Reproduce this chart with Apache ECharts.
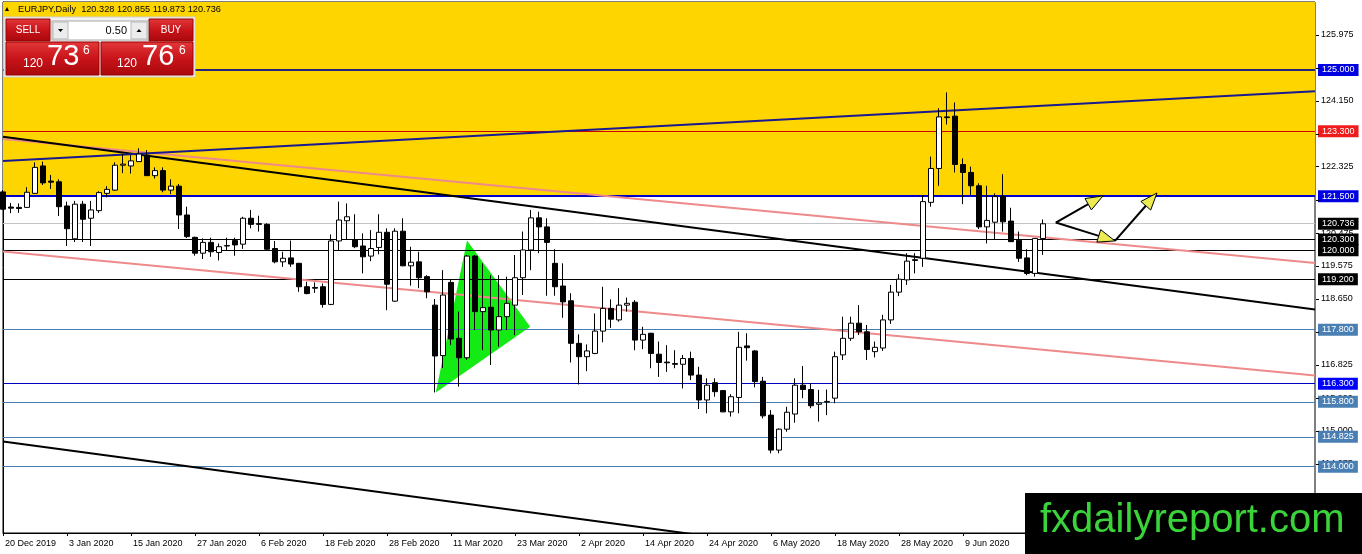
<!DOCTYPE html>
<html><head><meta charset="utf-8">
<script src="https://cdn.jsdelivr.net/npm/echarts@6/dist/echarts.min.js"></script>
<style>html,body{margin:0;padding:0;background:#fff}#c{width:1362px;height:554px}</style>
</head><body><div id="c"></div>
<script>
// ---------- DATA ----------
const dates = ['2019-12-20','2019-12-23','2019-12-24','2019-12-26','2019-12-27','2019-12-30','2019-12-31','2020-01-02','2020-01-03','2020-01-06','2020-01-07','2020-01-08','2020-01-09','2020-01-10','2020-01-13','2020-01-14','2020-01-15','2020-01-16','2020-01-17','2020-01-20','2020-01-21','2020-01-22','2020-01-23','2020-01-24','2020-01-27','2020-01-28','2020-01-29','2020-01-30','2020-01-31','2020-02-03','2020-02-04','2020-02-05','2020-02-06','2020-02-07','2020-02-10','2020-02-11','2020-02-12','2020-02-13','2020-02-14','2020-02-17','2020-02-18','2020-02-19','2020-02-20','2020-02-21','2020-02-24','2020-02-25','2020-02-26','2020-02-27','2020-02-28','2020-03-02','2020-03-03','2020-03-04','2020-03-05','2020-03-06','2020-03-09','2020-03-10','2020-03-11','2020-03-12','2020-03-13','2020-03-16','2020-03-17','2020-03-18','2020-03-19','2020-03-20','2020-03-23','2020-03-24','2020-03-25','2020-03-26','2020-03-27','2020-03-30','2020-03-31','2020-04-01','2020-04-02','2020-04-03','2020-04-06','2020-04-07','2020-04-08','2020-04-09','2020-04-10','2020-04-13','2020-04-14','2020-04-15','2020-04-16','2020-04-17','2020-04-20','2020-04-21','2020-04-22','2020-04-23','2020-04-24','2020-04-27','2020-04-28','2020-04-29','2020-04-30','2020-05-01','2020-05-04','2020-05-05','2020-05-06','2020-05-07','2020-05-08','2020-05-11','2020-05-12','2020-05-13','2020-05-14','2020-05-15','2020-05-18','2020-05-19','2020-05-20','2020-05-21','2020-05-22','2020-05-25','2020-05-26','2020-05-27','2020-05-28','2020-05-29','2020-06-01','2020-06-02','2020-06-03','2020-06-04','2020-06-05','2020-06-08','2020-06-09','2020-06-10','2020-06-11','2020-06-12','2020-06-15','2020-06-16','2020-06-17','2020-06-18','2020-06-19','2020-06-22','2020-06-23'];
const futureDates = ['2020-06-24','2020-06-25','2020-06-26','2020-06-29','2020-06-30','2020-07-01','2020-07-02','2020-07-03','2020-07-06','2020-07-07','2020-07-08','2020-07-09','2020-07-10','2020-07-13','2020-07-14','2020-07-15','2020-07-16','2020-07-17','2020-07-20','2020-07-21','2020-07-22','2020-07-23','2020-07-24','2020-07-27','2020-07-28','2020-07-29','2020-07-30','2020-07-31','2020-08-03','2020-08-04','2020-08-05','2020-08-06','2020-08-07','2020-08-10'];

const opens = [121.62,121.20,121.19,121.19,121.58,122.34,121.92,121.90,121.23,120.32,121.28,120.89,121.10,121.58,121.67,122.36,122.34,122.46,122.64,122.07,122.21,121.67,121.78,120.98,120.36,119.92,120.22,119.94,120.13,120.27,120.17,120.89,120.74,120.72,120.05,119.68,119.79,119.64,118.99,118.97,118.99,118.50,120.26,120.82,120.29,120.12,119.84,120.08,120.50,118.59,120.53,119.57,119.68,119.27,118.48,117.08,119.11,117.56,117.02,119.84,118.30,118.42,117.79,118.16,118.48,119.24,120.01,120.90,120.65,119.64,119.01,118.60,117.42,117.05,117.14,117.76,118.39,118.07,118.48,118.56,117.51,117.70,117.12,116.90,116.86,116.84,117.00,116.54,115.85,116.33,116.11,115.52,115.92,117.35,117.21,116.37,115.43,114.46,115.04,115.46,116.26,116.14,115.73,115.79,115.90,117.10,117.56,117.98,117.74,117.19,117.29,118.07,118.84,119.18,119.74,119.78,121.33,122.27,123.70,123.72,122.38,122.16,121.79,120.65,120.78,121.49,120.81,120.28,119.79,119.36,120.328];
const closes = [121.14,121.17,121.16,121.61,122.30,121.87,121.89,121.21,120.60,121.28,120.86,121.12,121.60,121.69,122.36,122.39,122.48,122.67,122.07,122.21,121.67,121.78,120.98,120.38,119.92,120.22,119.96,120.10,120.12,120.15,120.89,120.72,120.72,120.03,119.68,119.78,119.62,118.99,118.80,118.95,118.50,120.26,120.84,120.93,120.10,119.82,120.05,120.50,119.06,120.53,119.57,119.67,119.24,118.85,117.07,118.76,117.54,117.02,119.84,118.30,118.41,117.79,118.16,118.53,119.24,120.01,120.90,120.65,120.22,118.99,118.57,117.42,117.05,117.21,117.76,118.39,118.09,118.48,118.53,117.51,117.67,117.14,116.89,116.88,116.84,117.00,116.54,115.85,116.26,116.08,115.52,115.94,117.31,117.30,116.36,115.41,114.46,115.04,115.51,116.26,116.14,115.69,115.77,115.81,117.05,117.56,117.98,117.74,117.25,117.31,118.07,118.84,119.20,119.70,119.72,121.35,122.27,123.70,123.68,122.38,122.16,121.79,120.65,120.83,121.49,120.79,120.24,119.78,119.36,120.33,120.736];
const lows = [121.12,121.03,121.04,121.18,121.57,121.81,121.70,120.95,120.12,120.23,120.23,120.12,121.04,121.47,121.65,122.14,122.13,122.45,122.06,121.99,121.61,121.56,120.59,120.34,119.85,119.76,119.82,119.72,120.01,119.85,120.04,120.61,120.52,120.01,119.64,119.54,119.54,118.85,118.78,118.82,118.41,118.48,120.01,120.29,120.06,119.36,119.70,119.89,118.34,118.57,119.56,119.02,118.95,118.67,116.06,116.74,117.37,116.22,116.96,117.79,117.23,116.82,117.33,117.79,117.65,118.76,119.45,119.92,118.74,118.74,118.13,116.89,116.28,116.65,117.12,117.45,117.85,118.02,118.30,117.23,117.26,116.73,116.49,116.63,116.73,116.17,116.40,115.60,115.48,115.94,115.51,115.39,115.48,116.94,116.20,115.34,114.37,114.37,114.97,115.22,115.90,115.62,115.25,115.43,115.76,116.96,117.49,117.65,116.96,117.03,117.21,117.96,118.73,119.04,119.36,119.54,121.21,121.79,123.49,122.16,121.28,121.53,120.59,120.19,120.29,120.52,120.23,119.68,119.31,119.27,119.873];
const highs = [121.67,121.31,121.30,121.75,122.44,122.46,122.09,121.97,121.35,121.37,121.37,121.37,121.64,121.78,122.44,122.67,122.64,122.83,122.78,122.30,122.30,121.97,121.84,121.21,120.38,120.33,120.35,120.19,120.35,120.35,120.93,121.12,120.96,120.75,120.26,119.96,120.27,119.65,119.13,119.11,119.08,120.44,121.35,121.30,121.00,120.47,120.56,121.00,120.61,120.61,120.89,120.10,119.96,119.31,118.65,119.45,119.18,118.30,119.87,119.87,119.64,119.31,119.31,119.27,119.87,120.52,121.12,121.07,120.89,120.03,119.64,118.81,117.67,117.39,118.25,118.99,118.64,118.95,118.69,118.62,117.88,117.71,117.47,117.37,117.23,117.10,117.19,116.77,116.45,116.45,116.11,116.01,117.74,117.70,117.23,116.49,115.57,115.06,115.66,116.45,116.79,116.31,116.13,116.14,117.19,118.16,118.16,118.48,117.93,117.47,118.21,119.04,119.34,119.92,119.92,121.53,122.60,123.94,124.38,124.10,122.55,122.32,121.86,121.79,121.58,122.11,121.18,120.52,120.03,120.33,120.855];

// horizontal price levels (right-hand tags)
const levels = [125.000, 123.300, 121.500, 120.736, 120.300, 120.000, 119.200, 117.800, 116.300, 115.800, 114.825, 114.000];
// y axis tick labels
const yTicks = [113.175, 114.075, 115.000, 115.900, 116.825, 117.725, 118.650, 119.575, 120.475, 121.400, 122.325, 123.225, 124.150, 125.050, 125.975];
const yMin = 112.161, yMax = 126.886;
// shaded zone (price range)
const zone = [121.5, 126.886];
// trendlines: [barIndex, price]
const trendBlue = [[0, 122.48], [164, 124.41]];
const trendBlackUpper = [[0, 123.15], [164, 118.36]];
const trendBlackLower = [[0, 114.70], [164, 109.81]];
const trendPinkUpper = [[0, 123.09], [164, 119.65]];
const trendPinkLower = [[0, 119.97], [164, 116.53]];
// triangle vertices [barIndex, price]
const triangle = [[54.1, 116.06], [58.0, 120.27], [65.9, 117.88]];
// arrows [fromIndex, fromPrice, toIndex, toPrice]
const arrows = [[131.6, 120.77, 137.5, 121.51], [131.6, 120.77, 139.0, 120.26], [139.0, 120.26, 144.25, 121.59]];
// header texts
const headerText = 'EURJPY,Daily  120.328 120.855 119.873 120.736';
const sellQuote = ['120', '73', '6'];
const buyQuote = ['120', '76', '6'];
const lotSize = '0.50';
const watermark = 'fxdailyreport.com';

// ---------- STYLES ----------
const STEEL = '#4a7fb3';
const levelStyles = [
  {line: '#24247a', w: 2, bg: '#0000e0'},
  {line: '#d00000', w: 1, bg: '#ee1c1c'},
  {line: '#0000c8', w: 2, bg: '#0000e0'},
  {line: '#c4c4c4', w: 1, bg: '#000000'},
  {line: '#000000', w: 1, bg: '#000000'},
  {line: '#000000', w: 1, bg: '#000000'},
  {line: '#000000', w: 1, bg: '#000000'},
  {line: STEEL, w: 1, bg: STEEL},
  {line: '#0000c0', w: 1, bg: '#0000ff'},
  {line: STEEL, w: 1, bg: STEEL},
  {line: STEEL, w: 1, bg: STEEL},
  {line: STEEL, w: 1, bg: STEEL}
];
const FONT = '"Liberation Sans", Arial, sans-serif';
const MONTHS = ['Jan','Feb','Mar','Apr','May','Jun','Jul','Aug','Sep','Oct','Nov','Dec'];

const allDates = dates.concat(futureDates);
const candles = opens.map((o, i) => [o, closes[i], lows[i], highs[i]]);
const every8 = (idx) => idx % 8 === 0;

const chart = echarts.init(document.getElementById('c'), null, {renderer: 'canvas'});

function redGrad() {
  return new echarts.graphic.LinearGradient(0, 0, 0, 1, [
    {offset: 0, color: '#e3393b'}, {offset: 0.5, color: '#c8141a'}, {offset: 1, color: '#a8080c'}
  ]);
}

const levelLines = levels.map((v, i) => ({
  yAxis: v,
  lineStyle: {color: levelStyles[i].line, width: levelStyles[i].w, type: 'solid'},
  label: {
    show: true, position: 'end', distance: 3,
    formatter: v.toFixed(3),
    color: '#fff', backgroundColor: levelStyles[i].bg,
    fontFamily: FONT, fontSize: 9, lineHeight: 12,
    padding: [0, 4, 0, 4]
  }
}));

function trendSeries(data, color, width, z) {
  return {
    type: 'line', xAxisIndex: 1, yAxisIndex: 0, data: data,
    symbol: 'none', silent: true, clip: true, z: z,
    lineStyle: {color: color, width: width}
  };
}

const option = {
  animation: false,
  backgroundColor: '#ffffff',
  grid: {left: 3, right: 47, top: 2, bottom: 21, show: true, borderColor: '#000', borderWidth: 1, backgroundColor: 'transparent', outerBoundsMode: 'none', containLabel: false},
  xAxis: [{
    type: 'category', data: allDates, boundaryGap: false,
    axisLine: {show: true, lineStyle: {color: '#000', width: 1}},
    axisTick: {show: true, interval: every8, length: 3, lineStyle: {color: '#000'}},
    axisLabel: {
      interval: every8, align: 'left', margin: 6, padding: [0, 0, 0, 2],
      color: '#000', fontFamily: FONT, fontSize: 9,
      formatter: (v) => { const p = v.split('-'); return (+p[2]) + ' ' + MONTHS[+p[1] - 1] + ' ' + p[0]; }
    },
    splitLine: {show: false}
  }, {
    type: 'value', min: 0, max: 164, show: false
  }],
  yAxis: {
    type: 'value', position: 'right', min: yMin, max: yMax, scale: true,
    axisLine: {show: true, lineStyle: {color: '#000', width: 1}},
    axisTick: {show: false},
    axisLabel: {customValues: yTicks, color: '#000', fontFamily: FONT, fontSize: 9, margin: 6, formatter: (v) => Number(v).toFixed(3)},
    splitLine: {show: false}
  },
  series: [
    {
      type: 'custom', xAxisIndex: 1, yAxisIndex: 0, silent: true, z: 1,
      data: [zone],
      renderItem: (params, api) => {
        const a = api.coord([0, api.value(0)]);
        const b = api.coord([164, api.value(1)]);
        return {type: 'rect', shape: {x: a[0], y: b[1], width: b[0] - a[0], height: a[1] - b[1]}, style: {fill: '#FFD500'}};
      }
    },
    {
      type: 'custom', xAxisIndex: 1, yAxisIndex: 0, silent: true, z: 1,
      data: [0],
      renderItem: (params, api) => ({
        type: 'polygon',
        shape: {points: triangle.map(p => api.coord(p))},
        style: {fill: '#14ea14'}
      })
    },
    {
      type: 'line', xAxisIndex: 0, yAxisIndex: 0, data: [], silent: true, z: 2,
      markLine: {silent: true, symbol: ['none', 'none'], z: 2, animation: false, data: levelLines}
    },
    trendSeries(trendPinkUpper, '#ee8a8a', 2, 2),
    trendSeries(trendPinkLower, '#ee8a8a', 2, 2),
    trendSeries(trendBlackUpper, '#000000', 2, 2),
    trendSeries(trendBlackLower, '#000000', 2, 2),
    trendSeries(trendBlue, '#1a1a90', 2, 2),
    {
      type: 'candlestick', xAxisIndex: 0, yAxisIndex: 0, data: candles, z: 3,
      barWidth: 5, clip: true,
      itemStyle: {color: '#ffffff', color0: '#000000', borderColor: '#000000', borderColor0: '#000000', borderWidth: 1}
    },
    {
      // small y-axis ticks on the right
      type: 'custom', xAxisIndex: 1, yAxisIndex: 0, silent: true, z: 4, clip: false,
      data: yTicks.map(v => [164, v]),
      renderItem: (params, api) => {
        const p = api.coord([api.value(0), api.value(1)]);
        return {type: 'line', shape: {x1: p[0] + 1, y1: Math.round(p[1]) + 0.5, x2: p[0] + 4, y2: Math.round(p[1]) + 0.5}, style: {stroke: '#000', lineWidth: 1}};
      }
    },
    {
      type: 'custom', xAxisIndex: 1, yAxisIndex: 0, silent: true, z: 4,
      data: arrows, encode: {x: [0, 2], y: [1, 3]},
      renderItem: (params, api) => {
        const p1 = api.coord([api.value(0), api.value(1)]);
        const p2 = api.coord([api.value(2), api.value(3)]);
        const dx = p2[0] - p1[0], dy = p2[1] - p1[1];
        const L = Math.sqrt(dx * dx + dy * dy), ux = dx / L, uy = dy / L;
        const hl = 17, hw = 6.5;
        const bx = p2[0] - ux * hl, by = p2[1] - uy * hl;
        return {type: 'group', children: [
          {type: 'line', shape: {x1: p1[0], y1: p1[1], x2: bx, y2: by}, style: {stroke: '#000', lineWidth: 2}},
          {type: 'polygon', shape: {points: [[p2[0], p2[1]], [bx - uy * hw, by + ux * hw], [bx + uy * hw, by - ux * hw]]}, style: {fill: '#ecec52', stroke: '#000', lineWidth: 1}}
        ]};
      }
    }
  ],
  graphic: [
    // header
    {type: 'polygon', z: 100, shape: {points: [[5, 11], [9, 11], [7, 7]]}, style: {fill: '#000'}},
    {type: 'text', z: 100, x: 18, y: 9, style: {text: headerText, font: '9.2px ' + FONT, fill: '#000', verticalAlign: 'middle'}},
    // trade widget
    {type: 'rect', z: 100, shape: {x: 4, y: 17, width: 191, height: 60}, style: {fill: '#f2f2f2', stroke: '#d0d0d0'}},
    {type: 'rect', z: 101, shape: {x: 6, y: 19, width: 44, height: 22}, style: {fill: redGrad(), stroke: '#9a0000'}},
    {type: 'text', z: 102, x: 28, y: 30, style: {text: 'SELL', font: '10px ' + FONT, fill: '#fff', align: 'center', verticalAlign: 'middle'}},
    {type: 'rect', z: 101, shape: {x: 149, y: 19, width: 44, height: 22}, style: {fill: redGrad(), stroke: '#9a0000'}},
    {type: 'text', z: 102, x: 171, y: 30, style: {text: 'BUY', font: '10px ' + FONT, fill: '#fff', align: 'center', verticalAlign: 'middle'}},
    {type: 'rect', z: 101, shape: {x: 52, y: 21, width: 96, height: 19}, style: {fill: '#fff', stroke: '#a8a8a8'}},
    {type: 'rect', z: 102, shape: {x: 53, y: 22, width: 15, height: 17}, style: {fill: '#ececec', stroke: '#b8b8b8'}},
    {type: 'polygon', z: 103, shape: {points: [[58, 29], [63, 29], [60.5, 32]]}, style: {fill: '#000'}},
    {type: 'rect', z: 102, shape: {x: 131, y: 22, width: 16, height: 17}, style: {fill: '#ececec', stroke: '#b8b8b8'}},
    {type: 'polygon', z: 103, shape: {points: [[136.5, 32], [141.5, 32], [139, 29]]}, style: {fill: '#000'}},
    {type: 'text', z: 102, x: 127, y: 30.5, style: {text: lotSize, font: '11px ' + FONT, fill: '#000', align: 'right', verticalAlign: 'middle'}},
    {type: 'rect', z: 101, shape: {x: 6, y: 42, width: 93, height: 33}, style: {fill: redGrad(), stroke: '#9a0000'}},
    {type: 'rect', z: 101, shape: {x: 101, y: 42, width: 92, height: 33}, style: {fill: redGrad(), stroke: '#9a0000'}},
    {type: 'text', z: 102, x: 23, y: 64, style: {text: sellQuote[0], font: '12px ' + FONT, fill: '#fff', verticalAlign: 'middle'}},
    {type: 'text', z: 102, x: 47, y: 57, style: {text: sellQuote[1], font: '29px ' + FONT, fill: '#fff', verticalAlign: 'middle'}},
    {type: 'text', z: 102, x: 83, y: 51, style: {text: sellQuote[2], font: '12px ' + FONT, fill: '#fff', verticalAlign: 'middle'}},
    {type: 'text', z: 102, x: 117, y: 64, style: {text: buyQuote[0], font: '12px ' + FONT, fill: '#fff', verticalAlign: 'middle'}},
    {type: 'text', z: 102, x: 142, y: 57, style: {text: buyQuote[1], font: '29px ' + FONT, fill: '#fff', verticalAlign: 'middle'}},
    {type: 'text', z: 102, x: 179, y: 51, style: {text: buyQuote[2], font: '12px ' + FONT, fill: '#fff', verticalAlign: 'middle'}},
    // watermark
    {type: 'rect', z: 100, shape: {x: 1025, y: 493, width: 337, height: 61}, style: {fill: '#000'}},
    {type: 'text', z: 101, x: 1040, y: 521, style: {text: watermark, font: '40px ' + FONT, fill: '#3ad43a', verticalAlign: 'middle'}}
  ]
};
chart.setOption(option);
</script>
</body></html>
